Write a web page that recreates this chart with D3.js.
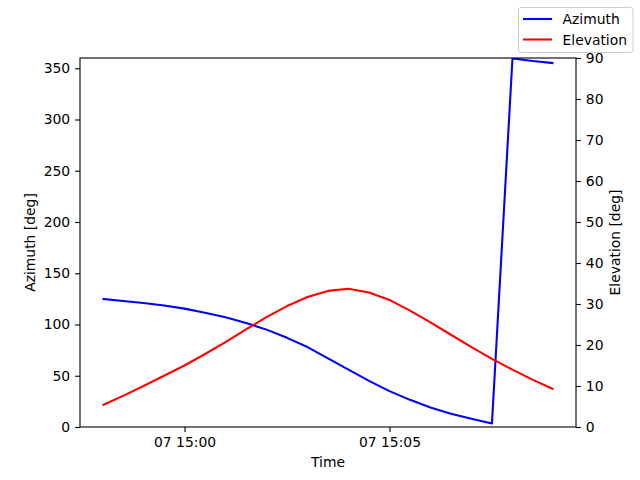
<!DOCTYPE html>
<html><head><meta charset="utf-8">
<script src="https://cdn.jsdelivr.net/npm/d3@7"></script>
<style>body{margin:0;background:#fff}svg{display:block}text{font-family:"DejaVu Sans",sans-serif}</style>
</head><body>
<svg id="c" width="640" height="480"></svg>
<script>
const startTime = "2024-01-07T14:58:00Z";
const stepSeconds = 30;
const azimuth = [125, 123, 121, 118.5, 115.5, 111.5, 107, 101.5, 95, 87, 78, 67, 56, 45, 35, 26.5, 19, 13, 8, 3.5, 359.5, 357, 355];
const elevation = [5.3, 7.6, 10.0, 12.5, 15.0, 17.8, 20.7, 23.8, 26.8, 29.5, 31.7, 33.2, 33.7, 32.8, 31.0, 28.4, 25.5, 22.5, 19.5, 16.6, 14.0, 11.5, 9.2];
const leftTicks = [0, 50, 100, 150, 200, 250, 300, 350];
const rightTicks = [0, 10, 20, 30, 40, 50, 60, 70, 80, 90];
const xTickTimes = ["2024-01-07T15:00:00Z", "2024-01-07T15:05:00Z"];
const seriesNames = ["Azimuth", "Elevation"];

const t0 = new Date(startTime).getTime();
const times = azimuth.map((_, i) => new Date(t0 + i * stepSeconds * 1000));

const L = 80, R = 576, T = 58, B = 427;
const svg = d3.select("#c");
const span = times[times.length - 1] - times[0];
const x = d3.scaleUtc().domain([new Date(+times[0] - span * 0.05), new Date(+times[times.length - 1] + span * 0.05)]).range([L, R]);
const yL = d3.scaleLinear().domain([0, 360]).range([B, T]);
const yR = d3.scaleLinear().domain([0, 90]).range([B, T]);

const fs = "13.9px";
const lw = 2.08;
svg.append("clipPath").attr("id", "clip").append("rect").attr("x", L).attr("y", T).attr("width", R - L).attr("height", B - T);
const g = svg.append("g").attr("clip-path", "url(#clip)");
g.append("path").datum(azimuth).attr("fill", "none").attr("stroke", "#0000ff").attr("stroke-width", lw).attr("stroke-linejoin", "round")
  .attr("d", d3.line().x((d, i) => x(times[i])).y(d => yL(d)));
g.append("path").datum(elevation).attr("fill", "none").attr("stroke", "#ff0000").attr("stroke-width", lw).attr("stroke-linejoin", "round")
  .attr("d", d3.line().x((d, i) => x(times[i])).y(d => yR(d)));

function style(ax) {
  ax.select(".domain").remove();
  ax.selectAll("line").attr("stroke", "#000").attr("stroke-width", 1.1);
  ax.selectAll("text").attr("font-size", fs).attr("fill", "#000").style("font-family", "DejaVu Sans");
}
const xa = svg.append("g").attr("transform", `translate(0,${B})`)
  .call(d3.axisBottom(x).tickValues(xTickTimes.map(s => new Date(s))).tickFormat(d3.utcFormat("%d %H:%M")).tickSize(4.9).tickPadding(4.9));
style(xa);
const ya = svg.append("g").attr("transform", `translate(${L},0)`)
  .call(d3.axisLeft(yL).tickValues(leftTicks).tickSize(4.9).tickPadding(4.9));
style(ya);
const yb = svg.append("g").attr("transform", `translate(${R},0)`)
  .call(d3.axisRight(yR).tickValues(rightTicks).tickSize(4.9).tickPadding(4.9));
style(yb);

svg.append("rect").attr("x", L).attr("y", T).attr("width", R - L).attr("height", B - T)
  .attr("fill", "none").attr("stroke", "#000").attr("stroke-width", 1.1);

svg.append("text").attr("x", (L + R) / 2).attr("y", 467).attr("text-anchor", "middle").attr("font-size", fs).text("Time");
svg.append("text").attr("transform", `translate(35,${(T + B) / 2}) rotate(-90)`).attr("text-anchor", "middle").attr("font-size", fs).text("Azimuth [deg]");
svg.append("text").attr("transform", `translate(620,${(T + B) / 2}) rotate(-90)`).attr("text-anchor", "middle").attr("font-size", fs).text("Elevation [deg]");

// legend
const lg = svg.append("g");
lg.append("rect").attr("x", 518.5).attr("y", 7.5).attr("width", 114.5).attr("height", 45).attr("rx", 2.5)
  .attr("fill", "#fff").attr("fill-opacity", 0.8).attr("stroke", "#ccc").attr("stroke-width", 1);
const colors = ["#0000ff", "#ff0000"];
seriesNames.forEach((n, i) => {
  const yy = 19 + i * 20.5;
  lg.append("line").attr("x1", 523).attr("x2", 552).attr("y1", yy).attr("y2", yy).attr("stroke", colors[i]).attr("stroke-width", lw);
  lg.append("text").attr("x", 562.5).attr("y", yy + 5).attr("font-size", fs).text(n);
});
</script>
</body></html>
